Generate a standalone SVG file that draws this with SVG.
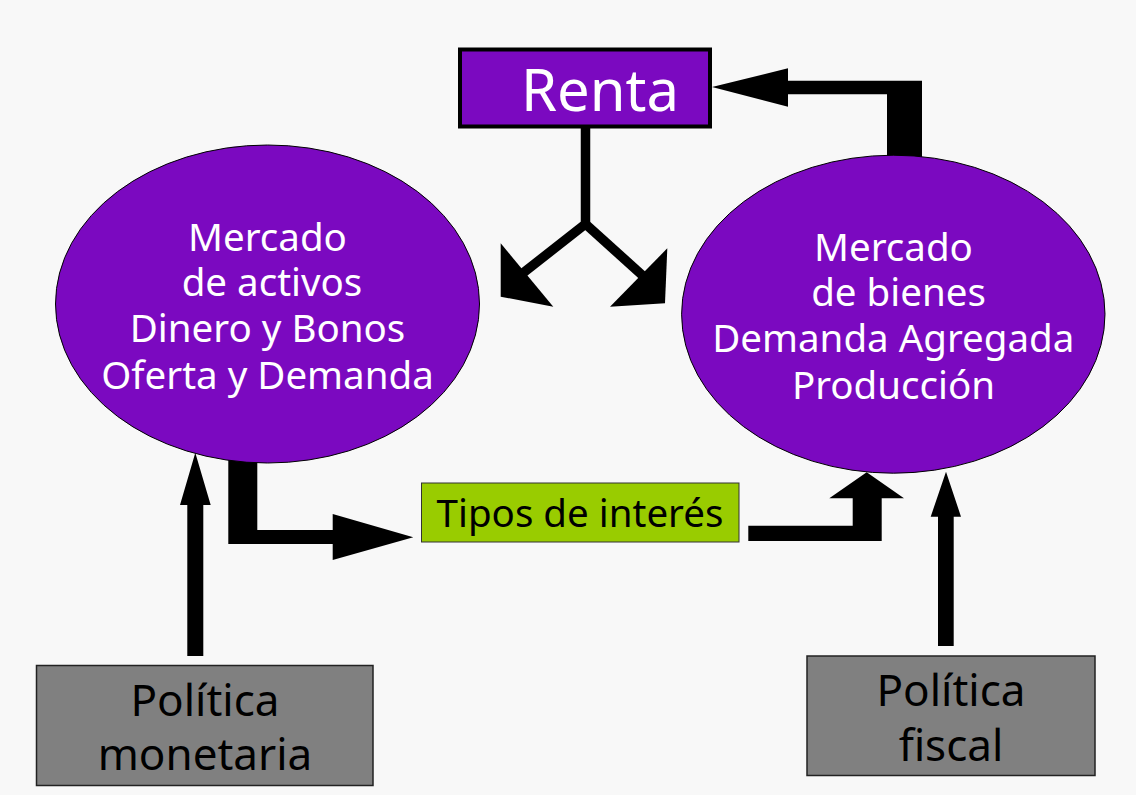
<svg xmlns="http://www.w3.org/2000/svg" width="1136" height="795" viewBox="0 0 1136 795">
<style>
.bg{fill:#f8f8f8}
.arr{fill:#000;stroke:none}
.stem{fill:none;stroke:#000;stroke-width:9.5;stroke-linejoin:miter}
.ell{fill:#7b09c0;stroke:#000;stroke-width:1}
.wt{font-family:"Noto Sans","Open Sans","DejaVu Sans",sans-serif;fill:#fff;text-anchor:middle}
.bt{font-family:"Noto Sans","Open Sans","DejaVu Sans",sans-serif;fill:#000;text-anchor:middle}
.pol{fill:#808080;stroke:#222;stroke-width:1.5}
</style>
<rect class="bg" x="0" y="0" width="1136" height="795"/>
<g id="connectors">
  <polygon class="arr" points="922,165 922,80.7 788,80.7 788,68.3 712,87 788,106.7 788,94.3 887,94.3 887,165"/>
  <polyline class="stem" points="585.5,127 585.5,224 523,273"/>
  <polyline class="stem" points="585.5,224 642,275"/>
  <polygon class="arr" points="500.7,243.3 500.7,296.7 553.3,306.7"/>
  <polygon class="arr" points="667.3,248.3 665,303.3 610,306.7"/>
  <polygon class="arr" points="228.3,440 257.3,440 257.3,530 332.7,530 332.7,514 413.3,537.3 332.7,560 332.7,544 228.3,544"/>
  <polygon class="arr" points="748.3,525.7 852.7,525.7 852.7,498.3 829.3,498.3 866.7,472.3 904,498.3 881.7,498.3 881.7,541 748.3,541"/>
  <polygon class="arr" points="187.3,656 187.3,505 180,505 195.3,452.7 210.7,505 203.3,505 203.3,656"/>
  <polygon class="arr" points="938,646 938,516.7 930.7,516.7 946,471.7 961,516.7 953.7,516.7 953.7,646"/>
</g>
<g id="renta">
  <rect x="460" y="49.5" width="250" height="77" fill="#7b09c0" stroke="#000" stroke-width="4"/>
  <text class="wt" x="600" y="111" font-size="58">Renta</text>
</g>
<g id="mercado-activos">
  <ellipse class="ell" cx="267.5" cy="304" rx="212" ry="159"/>
  <text class="wt" x="267.5" y="250.7" font-size="38.5">Mercado</text>
  <text class="wt" x="272" y="296" font-size="38.5">de activos</text>
  <text class="wt" x="267.5" y="342.3" font-size="38.5">Dinero y Bonos</text>
  <text class="wt" x="267.5" y="389.3" font-size="38.5">Oferta y Demanda</text>
</g>
<g id="mercado-bienes">
  <ellipse class="ell" cx="893.3" cy="314.2" rx="211.7" ry="159"/>
  <text class="wt" x="893.5" y="260.7" font-size="38.5">Mercado</text>
  <text class="wt" x="898.5" y="306" font-size="38.5">de bienes</text>
  <text class="wt" x="893.3" y="352.3" font-size="38.5">Demanda Agregada</text>
  <text class="wt" x="893.5" y="399.3" font-size="38.5">Producción</text>
</g>
<g id="tipos">
  <rect x="421.5" y="483" width="317.5" height="59" fill="#99cc00" stroke="#333" stroke-width="1"/>
  <text class="bt" x="580" y="527" font-size="38.5">Tipos de interés</text>
</g>
<g id="politica-monetaria">
  <rect class="pol" x="36.5" y="665.5" width="336.5" height="120"/>
  <text class="bt" x="205" y="716" font-size="44">Política</text>
  <text class="bt" x="205" y="770" font-size="44">monetaria</text>
</g>
<g id="politica-fiscal">
  <rect class="pol" x="807" y="656" width="288" height="119.5"/>
  <text class="bt" x="951" y="706" font-size="44">Política</text>
  <text class="bt" x="951" y="761" font-size="44">fiscal</text>
</g>
</svg>
